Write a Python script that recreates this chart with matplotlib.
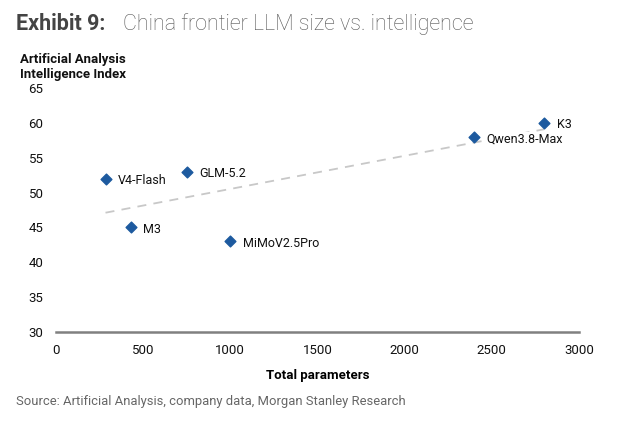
import numpy as np
import matplotlib.pyplot as plt
from matplotlib import font_manager

names = [f.name for f in font_manager.fontManager.ttflist]
narrow = 'Liberation Sans Narrow' if 'Liberation Sans Narrow' in names else 'Roboto'
plt.rcParams['font.family'] = [narrow, 'DejaVu Sans']

models = ['V4-Flash', 'GLM-5.2', 'M3', 'MiMoV2.5Pro', 'Qwen3.8-Max', 'K3']
params = [284, 750, 430, 1000, 2400, 2800]
score = [52, 53, 45, 43, 58, 60]

fig = plt.figure(figsize=(6.3, 4.26), dpi=100)
ax = fig.add_axes([0.0889, 0.2207, 0.830, 0.5728])

# trend line
a, b = np.polyfit(params, score, 1)
xs = np.array([min(params), max(params)])
ax.plot(xs, a * xs + b, color='#c8c8c8', lw=1.3, ls=(0, (5, 4)), zorder=1)

ax.scatter(params, score, marker='D', s=30, color='#1d5a9f', zorder=3)
for n, x, y in zip(models, params, score):
    ax.annotate(n, (x, y), xytext=(9, -1.5), textcoords='offset points',
                va='center', ha='left', fontsize=9, color='#111111', zorder=4,
                bbox=dict(facecolor='white', edgecolor='none', pad=0.5))

ax.set_xlim(0, 3000)
ax.set_ylim(30, 65)
ax.set_xticks(range(0, 3001, 500))
ax.set_yticks(range(30, 66, 5))
for s in ['top', 'right', 'left']:
    ax.spines[s].set_visible(False)
ax.spines['bottom'].set_color('#808080')
ax.spines['bottom'].set_linewidth(1.8)
ax.tick_params(length=0, labelsize=9.5, colors='#111111')
ax.tick_params(axis='x', pad=9)
ax.tick_params(axis='y', pad=9)

ax.set_xlabel('Total parameters', fontsize=9.5, fontweight='bold', labelpad=8)

fig.text(0.032, 0.843, 'Artificial Analysis\nIntelligence Index', fontsize=9.5,
         fontweight='bold', ha='left', va='center', linespacing=1.15, color='#111111')
fig.text(0.025, 0.944, 'Exhibit 9:', fontsize=15.5, fontweight='bold',
         color='#444444', ha='left', va='center')
fig.text(0.195, 0.944, 'China frontier LLM size vs. intelligence', fontsize=15.5,
         color='#555555', ha='left', va='center', family=['Roboto', 'DejaVu Sans'],
         fontweight='light')
fig.text(0.025, 0.057, 'Source: Artificial Analysis, company data, Morgan Stanley Research',
         fontsize=9.4, color='#666666', ha='left', va='center',
         family=['Roboto', 'DejaVu Sans'])

fig.savefig('out.png', dpi=100)
